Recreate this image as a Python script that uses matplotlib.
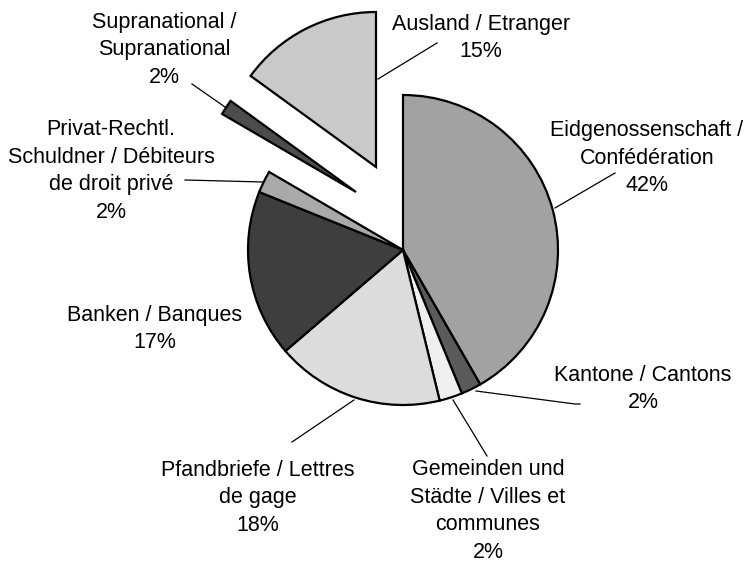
import matplotlib.pyplot as plt

plt.rcParams['font.family'] = ['Liberation Sans', 'DejaVu Sans']

W, H = 745, 565

labels = ['Eidgenossenschaft /\nConfédération', 'Kantone / Cantons',
          'Gemeinden und\nStädte / Villes et\ncommunes', 'Pfandbriefe / Lettres\nde gage',
          'Banken / Banques', 'Privat-Rechtl.\nSchuldner / Débiteurs\nde droit privé',
          'Supranational /\nSupranational', 'Ausland / Etranger']
values = [41.7, 2.1, 2.4, 17.5, 17.4, 2.3, 1.6, 15.0]
colors = ['#a2a2a2', '#5a5a5a', '#efefef', '#dcdcdc', '#3e3e3e', '#a9a9a9', '#4c4c4c', '#c9c9c9']

# pie centre / radius in pixels (image coords, y down)
cx, cy, r = 403, 250, 155
# pulled out slices: offset in px (image coords)
shift = {6: (-47, -58), 7: (-27, -83)}

# label block centres and leader lines, image coords
label_pos = [(647, 158), (643, 389), (488, 511), (258, 498), (155, 329),
             (111, 171), (164, 50), (481, 38)]
leaders = [[(615, 173), (555, 208)],
           [(580, 404), (575, 404), (476, 391)],
           [(487, 456), (453, 400)],
           [(292, 442), (354, 400)],
           None,
           [(185, 180), (263, 182)],
           [(192, 84), (225, 107)],
           [(437, 43), (378, 79)]]

fig = plt.figure(figsize=(W / 100, H / 100), dpi=100)
ax = fig.add_axes([0, 0, 1, 1])

wedges, _ = ax.pie(values, colors=colors, startangle=90, counterclock=False,
                   center=(cx, H - cy), radius=r,
                   wedgeprops=dict(edgecolor='black', linewidth=1.6))
for i, (dx, dy) in shift.items():
    wedges[i].set_center((cx + dx, H - cy - dy))

for lab, v, (x, y), ld in zip(labels, values, label_pos, leaders):
    ax.text(x, H - y, f'{lab}\n{round(v)}%', ha='center', va='center',
            fontsize=15.5, linespacing=1.42)
    if ld:
        ax.plot([p[0] for p in ld], [H - p[1] for p in ld], color='black', lw=0.9)

ax.set_xlim(0, W)
ax.set_ylim(0, H)
ax.set_aspect('equal')
ax.axis('off')

plt.savefig('out.png', dpi=100)
